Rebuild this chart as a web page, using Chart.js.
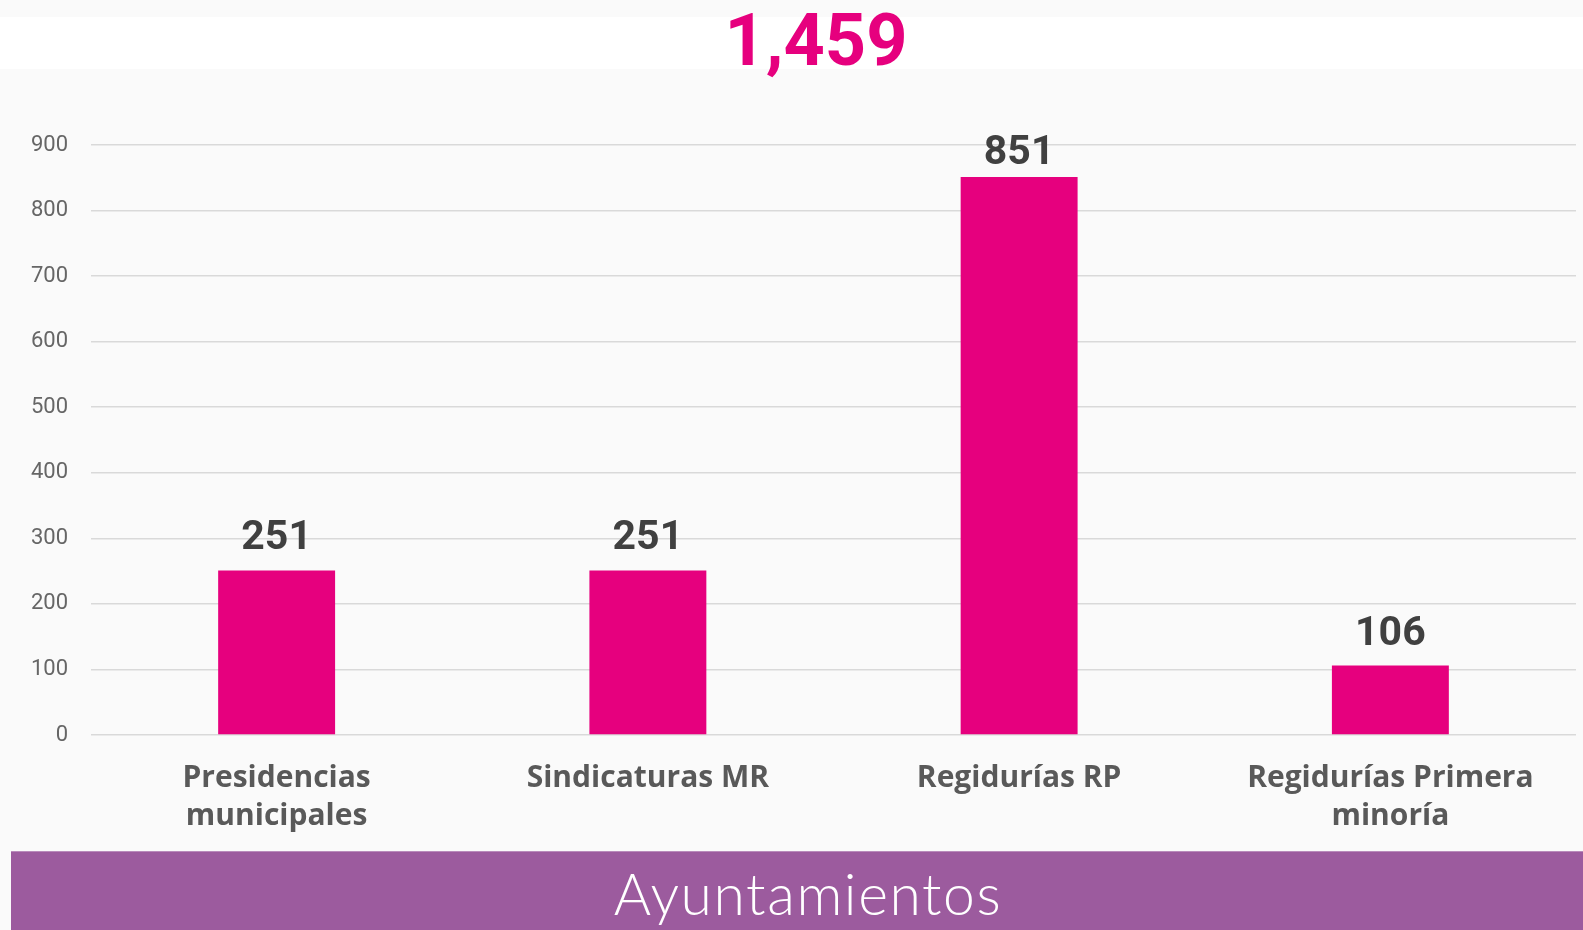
<!DOCTYPE html>
<html lang="es">
<head>
<meta charset="utf-8">
<title>Ayuntamientos</title>
<script src="https://cdn.jsdelivr.net/npm/chart.js@4.4.0/dist/chart.umd.min.js"></script>
<style>
    html, body { margin: 0; padding: 0; }
    body {
        width: 1583px;
        height: 930px;
        background: #fafafa;
        position: relative;
        overflow: hidden;
        font-family: Roboto, "Noto Sans", sans-serif;
    }
    .top-band {
        position: absolute;
        left: 0; top: 17px;
        width: 1583px; height: 52px;
        background: #ffffff;
    }
    .total {
        position: absolute;
        left: 616px; top: -4px;
        width: 400px;
        text-align: center;
        color: #e6007e;
        font: 700 72px Roboto, sans-serif;
        line-height: 90px;
    }
    .chart-box {
        position: absolute;
        left: 0; top: 0;
        width: 1583px; height: 850px;
    }
    .footer {
        position: absolute;
        left: 11px; top: 851px;
        width: 1572px; height: 79px;
        background: #9c5b9e;
        border-top: 1px solid #b98bbb;
        color: #ffffff;
        text-align: center;
        font: 300 57px Lato, "Open Sans", sans-serif;
        letter-spacing: 1.6px;
        line-height: 80px;
        box-sizing: border-box;
    }
    .footer span {
        position: relative;
        left: 11px;
        top: 1px;
    }
</style>
</head>
<body>
<div class="top-band"></div>
<div class="chart-box"><canvas id="chart"></canvas></div>
<div class="total" id="total"></div>
<div class="footer"><span>Ayuntamientos</span></div>

<script>
(function() {
    'use strict';

    // Chart data
    const categories = [
        ['Presidencias', 'municipales'],
        'Sindicaturas MR',
        'Regidurías RP',
        ['Regidurías Primera', 'minoría']
    ];
    const values = [251, 251, 851, 106];
    const yTicks = [0, 100, 200, 300, 400, 500, 600, 700, 800, 900];
    const totalLabel = '1,459';

    const PINK = '#e6007e';

    document.getElementById('total').textContent = totalLabel;

    // Value labels above the bars (kept inside the top of the plot)
    const barLabels = {
        id: 'barLabels',
        afterDatasetsDraw(chart) {
            const ctx = chart.ctx;
            const meta = chart.getDatasetMeta(0);
            ctx.save();
            ctx.font = '700 41px Roboto, sans-serif';
            ctx.fillStyle = '#404040';
            ctx.textAlign = 'center';
            ctx.textBaseline = 'alphabetic';
            meta.data.forEach((bar, i) => {
                const y = Math.max(bar.y - 21, chart.chartArea.top + 19);
                ctx.fillText(String(values[i]), bar.x, y);
            });
            ctx.restore();
        }
    };

    new Chart(document.getElementById('chart'), {
        type: 'bar',
        data: {
            labels: categories,
            datasets: [{
                data: values,
                backgroundColor: PINK,
                borderWidth: 0,
                categoryPercentage: 1,
                barPercentage: 0.315
            }]
        },
        options: {
            responsive: true,
            maintainAspectRatio: false,
            animation: false,
            layout: {
                padding: { top: 145, right: 7, left: 0, bottom: 0 }
            },
            plugins: {
                legend: { display: false },
                tooltip: { enabled: false }
            },
            scales: {
                y: {
                    min: yTicks[0],
                    max: yTicks[yTicks.length - 1],
                    afterBuildTicks: function(scale) {
                        scale.ticks = yTicks.map(v => ({ value: v }));
                    },
                    afterFit: function(scale) {
                        scale.width = 91;
                    },
                    border: { display: false },
                    grid: {
                        color: '#d9d9d9',
                        lineWidth: 1.5,
                        drawTicks: false
                    },
                    ticks: {
                        padding: 23,
                        color: '#666666',
                        font: { family: 'Roboto, sans-serif', size: 22 }
                    }
                },
                x: {
                    afterFit: function(scale) {
                        scale.height = 115;
                    },
                    border: { display: false },
                    grid: { display: false, drawTicks: false },
                    ticks: {
                        padding: 25,
                        maxRotation: 0,
                        color: '#595959',
                        font: {
                            family: '"Open Sans", Roboto, sans-serif',
                            size: 30,
                            weight: '700',
                            lineHeight: 1.25
                        }
                    }
                }
            }
        },
        plugins: [barLabels]
    });
})();
</script>
</body>
</html>
